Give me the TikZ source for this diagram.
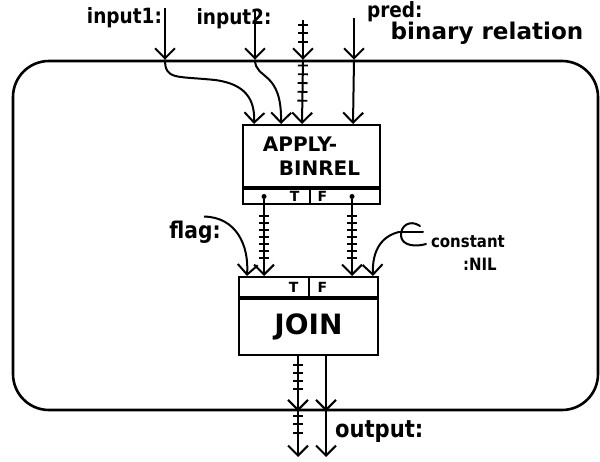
\documentclass[tikz,border=0pt]{standalone}
\usepackage{fontspec}
\setmainfont{DejaVu Sans}
\usetikzlibrary{positioning, arrows.meta, calc, decorations.markings}
\tikzset{
    frame/.style={rectangle, draw, rounded corners=36pt, line width=2.6pt, minimum width=585pt, minimum height=349pt},
    opbox/.style={rectangle, draw, line width=2pt, inner sep=0pt, minimum width=#1},
    arr/.style={-{Straight Barb[length=10pt, width=20pt, line width=2pt]}, line width=2pt},
    bundle/.style n args={3}{postaction={decorate}, decoration={markings,
        mark=between positions #1 and #2 step #3 with {\draw[-, line width=1.8pt] (0,-5pt) -- (0,5pt);}}},
    port/.style={circle, fill, inner sep=0pt, minimum size=5pt},
    lbl/.style={font=\fontsize{21}{22}\selectfont\bfseries, inner sep=1pt, xscale=0.88},
    tflbl/.style={font=\fontsize{14}{14}\selectfont\bfseries, inner sep=1pt}
}
\begin{document}
\begin{tikzpicture}[x=1pt, y=-1pt,
      divider/.style={line width=2pt},
      curl/.style={line width=2pt, line cap=round}
    ]
    \useasboundingbox (0,0) rectangle (600,462);
    \node[frame] (frame) at (305.5,235.5) {};
    % APPLY-BINREL
    \node[opbox=137pt, minimum height=62pt, align=left, font=\fontsize{20}{24}\selectfont\bfseries] (apply) at (311.5,156) {APPLY-\\\hspace*{16pt}BINREL};
    \node[opbox=137pt, minimum height=15pt, below=0pt of apply] (applytf) {};
    \draw[divider] ([xshift=-1.5pt]applytf.north) -- ([xshift=-1.5pt]applytf.south);
    \node[tflbl, anchor=east] (applyT) at ([xshift=-11pt]applytf.center) {T};
    \node[tflbl, anchor=west] (applyF) at ([xshift=5pt]applytf.center) {F};
    \node[port] (tport) at ([xshift=22pt]applytf.west) {};
    \node[port] (fport) at ([xshift=110pt]applytf.west) {};
    % JOIN
    \node[opbox=139pt, minimum height=20pt] (jointf) at (308.5,287) {};
    \node[opbox=139pt, minimum height=56pt, below=0pt of jointf, font=\fontsize{28}{30}\selectfont\bfseries] (join) {JOIN};
    \draw[divider] (jointf.north) -- (jointf.south);
    \node[tflbl, anchor=east] (joinT) at ([xshift=-9pt]jointf.center) {T};
    \node[tflbl, anchor=west] (joinF) at ([xshift=8pt]jointf.center) {F};
    % labels
    \node[lbl, anchor=east] (in1lbl) at (163,18) {input1:};
    \node[lbl] (in2lbl) at (234,19) {input2:};
    \node[lbl, anchor=west] (predlbl) at (366,12) {pred:};
    \node[lbl, font=\fontsize{23}{24}\selectfont\bfseries, xscale=1.14] (rellbl) at (487,33) {binary relation};
    \node[lbl, font=\fontsize{23}{24}\selectfont\bfseries] (flaglbl) at (195,232) {flag:};
    \node[lbl, font=\fontsize{17}{18}\selectfont\bfseries, anchor=west] (constlbl) at (430,242) {constant};
    \node[lbl, font=\fontsize{17}{18}\selectfont\bfseries, anchor=west] (nillbl) at (462,264) {:NIL};
    \node[lbl, font=\fontsize{24}{26}\selectfont\bfseries, anchor=west] (outlbl) at (334,432) {output:};
    % coordinates
    \coordinate (in1) at (165,8);
    \coordinate (in2) at (255,10);
    \coordinate (hin) at (303,20);
    \coordinate (pin) at (354,18);
    \coordinate (bottom) at (0,457);
    \coordinate (a1) at ([xshift=12pt]apply.north west);
    \coordinate (a2) at ([xshift=39pt]apply.north west);
    \coordinate (a3) at ([xshift=60pt]apply.north west);
    \coordinate (a4) at ([xshift=111pt]apply.north west);
    \coordinate (j0) at ([xshift=9pt]jointf.north west);
    \coordinate (j1) at (tport |- jointf.north);
    \coordinate (j2) at (fport |- jointf.north);
    \coordinate (j3) at ([xshift=-6pt]jointf.north east);
    \coordinate (cs) at (399,232);
    \coordinate (o1) at ([xshift=-10.5pt]join.south);
    \coordinate (o2) at ([xshift=17.5pt]join.south);
    % inputs
    \draw[arr] (in1) -- (in1 |- frame.north);
    \draw[arr] (in1 |- frame.north) .. controls (165,80) and (176,76) .. (215,80) .. controls (246,84) and (255,100) .. (a1);
    \draw[arr] (in2) -- (in2 |- frame.north);
    \draw[arr] (in2 |- frame.north) .. controls (255,80) and (282,70) .. (a2);
    \draw[arr, bundle={0.12}{0.75}{8.5pt}] (hin) -- (hin |- frame.north);
    \draw[arr, bundle={0.09}{0.65}{8.8pt}] (hin |- frame.north) -- (a3);
    \draw[arr] (pin) -- (pin |- frame.north);
    \draw[arr] (pin |- frame.north) -- (a4);
    % APPLY to JOIN
    \draw[arr, bundle={0.22}{0.84}{7pt}] (tport) -- (j1);
    \draw[arr, bundle={0.22}{0.84}{7pt}] (fport) -- (j2);
    \draw[arr] ([shift={(9,-3)}]flaglbl.north) .. controls (236,217) and (249,245) .. (j0);
    \draw[arr] (cs) .. controls (382,236) and (372,250) .. (j3);
    \draw[curl] (cs) -- ++(24,0);
    \draw[curl] (420,226) .. controls (410,219) and (400,226) .. (401,236) .. controls (402,246) and (416,247) .. (426,244);
    % output
    \draw[arr, bundle={0.16}{0.72}{8pt}] (o1) -- (o1 |- frame.south);
    \draw[arr, bundle={0.1}{0.65}{8.5pt}] (o1 |- frame.south) -- (o1 |- bottom);
    \draw[arr] (o2) -- (o2 |- frame.south);
    \draw[arr] (o2 |- frame.south) -- (o2 |- bottom);
\end{tikzpicture}
\end{document}
